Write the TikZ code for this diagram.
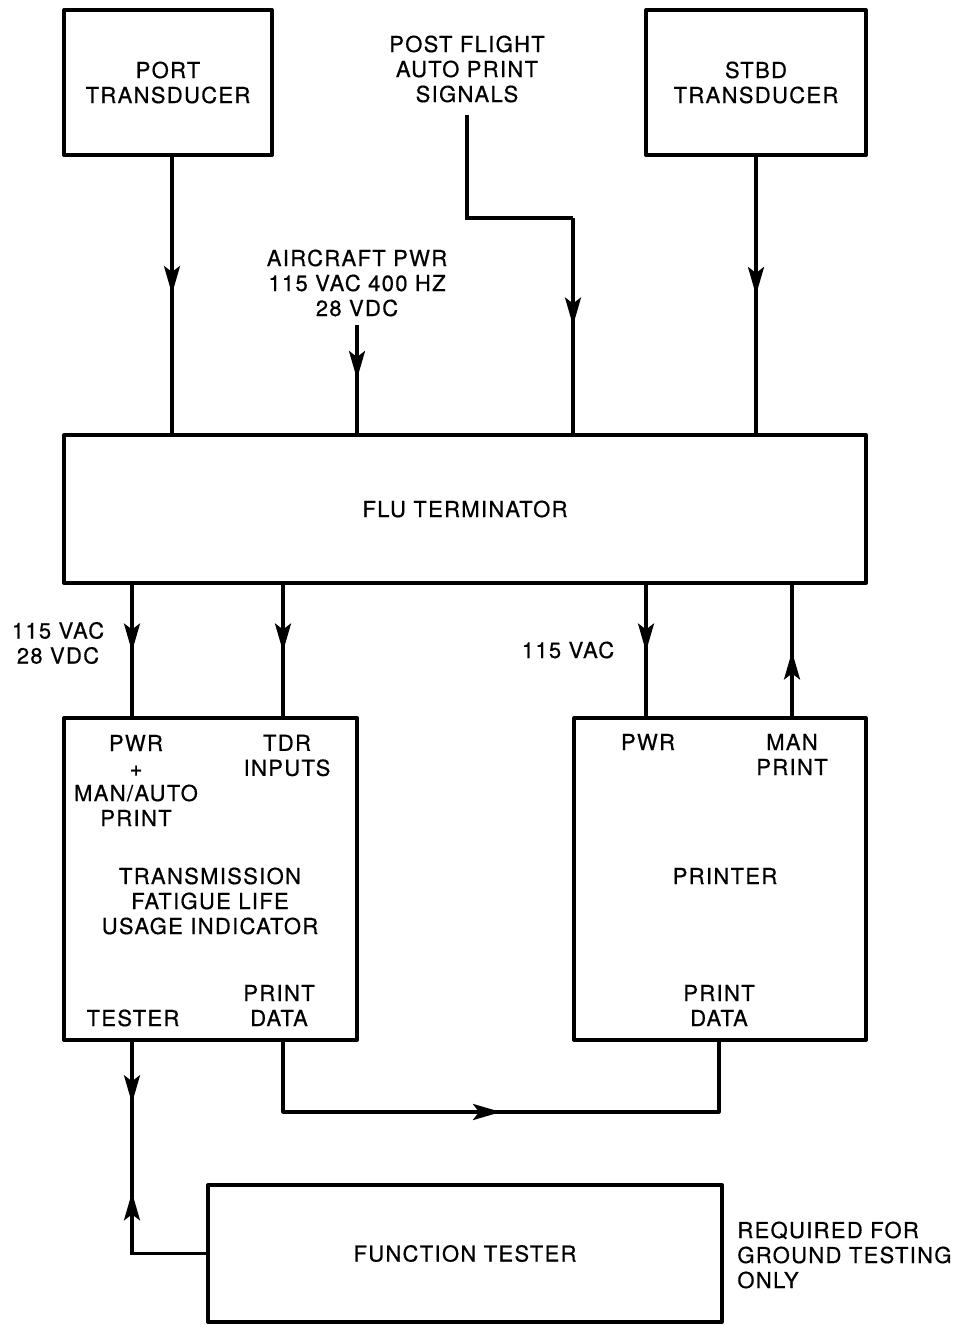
\documentclass[tikz,border=0pt]{standalone}
\usepackage{fontspec}
\setmainfont{TeX Gyre Heros}[LetterSpace=6,FakeBold=0.6]
\usetikzlibrary{positioning}
\usetikzlibrary{calc}
\usetikzlibrary{arrows.meta}
\usetikzlibrary{decorations.markings}

\begin{document}
\begin{tikzpicture}[x=0.5pt, y=-0.5pt,
    box/.style={draw, line width=2pt, line join=round, inner sep=0pt, align=center,
        font=\fontsize{11}{12.5}\selectfont},
    lbl/.style={align=center, inner sep=0pt, font=\fontsize{11}{12.5}\selectfont},
    wire/.style={line width=1.6pt},
    flow/.style={wire, postaction={decorate}, decoration={markings,
        mark=at position #1 with {\arrow{Stealth[length=14pt,width=8pt,inset=3pt]}}}},
    flow/.default=0.5]
    \useasboundingbox (0,0) rectangle (956,1325);

    % boxes
    \node[box, minimum width=104pt, minimum height=72.5pt] (port) at (168,82.5) {PORT\\TRANSDUCER};
    \node[box, minimum width=110pt, minimum height=72.5pt] (stbd) at (756,82.5) {STBD\\TRANSDUCER};
    \node[box, minimum width=401pt, minimum height=74pt] (flu) at (465,509) {FLU TERMINATOR};
    \node[box, minimum width=146.5pt, minimum height=161pt] (tflui) at (210.5,879) {};
    \node[box, minimum width=146pt, minimum height=161pt] (printer) at (720,879) {};
    \node[box, minimum width=257pt, minimum height=68.5pt] (tester) at (465,1253.5) {FUNCTION TESTER};

    % labels
    \node[lbl] (post) at (467,69) {POST FLIGHT\\AUTO PRINT\\SIGNALS};
    \node[lbl] (acpwr) at (357,283) {AIRCRAFT PWR\\115 VAC 400 HZ\\28 VDC};
    \node[lbl] (pwrlbl) at (58,643) {115 VAC\\28 VDC};
    \node[lbl] (prnpwrlbl) at (568,650) {115 VAC};
    \node[lbl, anchor=west, align=left] (ground) at (737,1255) {REQUIRED FOR\\GROUND TESTING\\ONLY};

    \node[lbl] (tpwr) at (136,780.5) {PWR\\+\\MAN/AUTO\\PRINT};
    \node[lbl] (ttdr) at (287,755.5) {TDR\\INPUTS};
    \node[lbl] (tname) at (210,901) {TRANSMISSION\\FATIGUE LIFE\\USAGE INDICATOR};
    \node[lbl] (tdata) at (279,1005.5) {PRINT\\DATA};
    \node[lbl] (ttest) at (133,1018) {TESTER};

    \node[lbl] (ppwr) at (648,742) {PWR};
    \node[lbl] (pman) at (792,754.5) {MAN\\PRINT};
    \node[lbl] (pname) at (725,876) {PRINTER};
    \node[lbl] (pdata) at (719,1005.5) {PRINT\\DATA};

    % connection points
    \coordinate (portout) at (172,155);
    \coordinate (acin) at (357,325);
    \coordinate (postbend) at (573,218);
    \coordinate (tpin) at (132,718);
    \coordinate (ttin) at (283,718);
    \coordinate (pdout) at (283,1040);
    \coordinate (ppin) at (646,718);
    \coordinate (pmout) at (792,718);
    \coordinate (pdin) at (719,1040);

    % inputs to FLU
    \draw[flow] (portout) -- (portout |- flu.north);
    \draw[flow] (stbd.south) -- (stbd.south |- flu.north);
    \draw[flow] (acin) -- (acin |- flu.north);
    \draw[wire] ([yshift=-6pt]post.south) |- (postbend);
    \draw[flow] (postbend) -- (postbend |- flu.north);

    % FLU outputs
    \draw[flow] (tpin |- flu.south) -- (tpin);
    \draw[flow] (ttin |- flu.south) -- (ttin);
    \draw[flow] (ppin |- flu.south) -- (ppin);
    \draw[flow] (pmout) -- (pmout |- flu.south);

    % print data
    \draw[flow, line join=round] (pdout) -- ++(0,72) -| (pdin);

    % tester link
    \draw[wire, postaction={decorate}, decoration={markings,
        mark=at position 0.22 with {\arrow{Stealth[length=14pt,width=8pt,inset=3pt]}},
        mark=at position 0.53 with {\arrowreversed{Stealth[length=14pt,width=8pt,inset=3pt]}}}]
        (132,1040) |- (tester.west);
\end{tikzpicture}
\end{document}
